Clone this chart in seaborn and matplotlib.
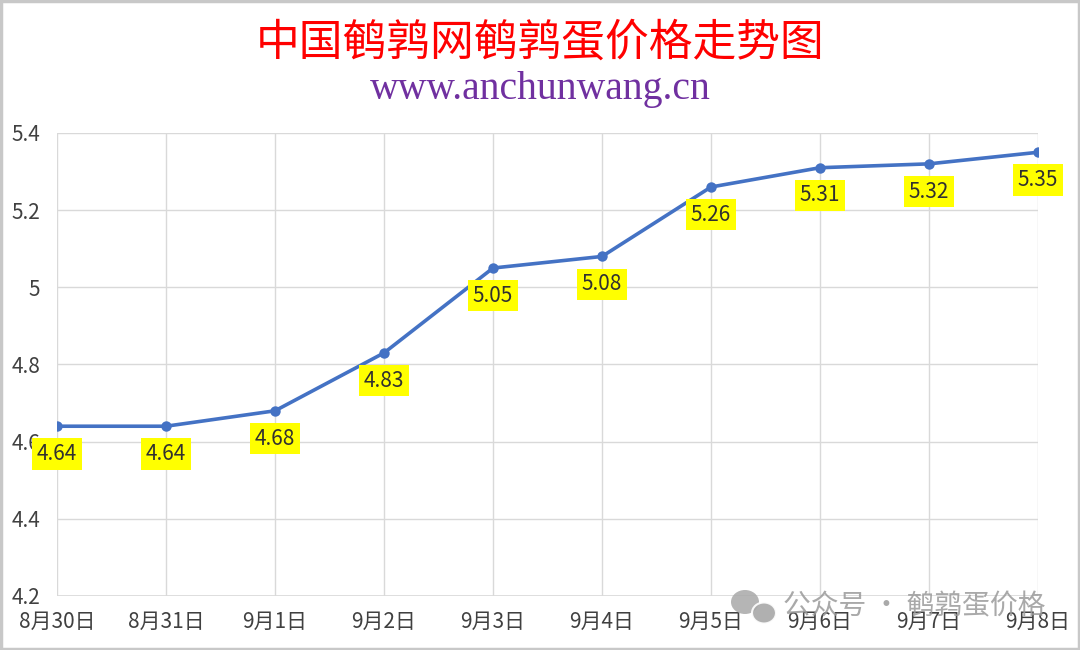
import matplotlib.pyplot as plt
import seaborn as sns
from matplotlib.patches import Rectangle, Ellipse

# Data
dates = ["8月30日", "8月31日", "9月1日", "9月2日", "9月3日",
         "9月4日", "9月5日", "9月6日", "9月7日", "9月8日"]
prices = [4.64, 4.64, 4.68, 4.83, 5.05, 5.08, 5.26, 5.31, 5.32, 5.35]
y_ticks = [4.2, 4.4, 4.6, 4.8, 5.0, 5.2, 5.4]
y_tick_labels = ["4.2", "4.4", "4.6", "4.8", "5", "5.2", "5.4"]

sns.set_style("white")
plt.rcParams['font.family'] = ['Noto Sans CJK SC', 'DejaVu Sans']

fig = plt.figure(figsize=(10.8, 6.5), dpi=100)
ax = fig.add_axes([0.0528, 0.0831, 0.9083, 0.7123])

x = list(range(len(dates)))
sns.lineplot(x=x, y=prices, ax=ax, color="#4472C4", linewidth=2.6,
             marker="o", markersize=7.5, markeredgewidth=0, zorder=3)

ax.set_xlim(0, len(dates) - 1)
ax.set_ylim(4.2, 5.4)
ax.set_xticks(x)
ax.set_xticklabels(dates)
ax.set_yticks(y_ticks)
ax.set_yticklabels(y_tick_labels)
ax.tick_params(axis="both", length=0, labelsize=15, labelcolor="#404040")
ax.tick_params(axis="x", pad=11)
ax.tick_params(axis="y", pad=12)
ax.grid(True, color="#D9D9D9", linewidth=1)
for s in ax.spines.values():
    s.set_visible(False)
ax.axhline(4.2, color="#D9D9D9", linewidth=1.2, zorder=1)

# Data labels in yellow boxes below each point
for xi, p in zip(x, prices):
    ax.annotate(f"{p:.2f}", (xi, p), xytext=(0, -20), textcoords="offset points",
                ha="center", va="center", fontsize=15, color="#303030",
                bbox=dict(boxstyle="square,pad=0.22", fc="#FFFF00", ec="none"),
                annotation_clip=False, zorder=4)

# Titles
fig.text(0.5, 0.935, "中国鹌鹑网鹌鹑蛋价格走势图", ha="center", va="center",
         fontsize=31.5, color="#FF0000")
fig.text(0.5, 0.862, "www.anchunwang.cn", ha="center", va="center",
         fontsize=28.5, color="#7030A0", family="Liberation Serif")

# Watermark (WeChat-like icon + text)
fig.patches.append(Ellipse((745 / 1080, 1 - 602 / 650), 28 / 1080, 24 / 650,
                           transform=fig.transFigure, fc="#a8a8a8", ec="none",
                           alpha=0.85, zorder=10))
fig.patches.append(Ellipse((764 / 1080, 1 - 613 / 650), 24 / 1080, 21 / 650,
                           transform=fig.transFigure, fc="#a8a8a8", ec="white",
                           lw=1.5, alpha=0.9, zorder=11))
fig.text(0.968, 1 - 606 / 650, "公众号 · 鹌鹑蛋价格", ha="right", va="center",
         fontsize=20, color="#9a9a9a", alpha=0.85, zorder=12)

# Outer border
fig.patches.append(Rectangle((0.001, 0.002), 0.998, 0.996, transform=fig.transFigure,
                             fill=False, ec="#C8C8C8", lw=2.5))

fig.savefig("out.png", dpi=100)
